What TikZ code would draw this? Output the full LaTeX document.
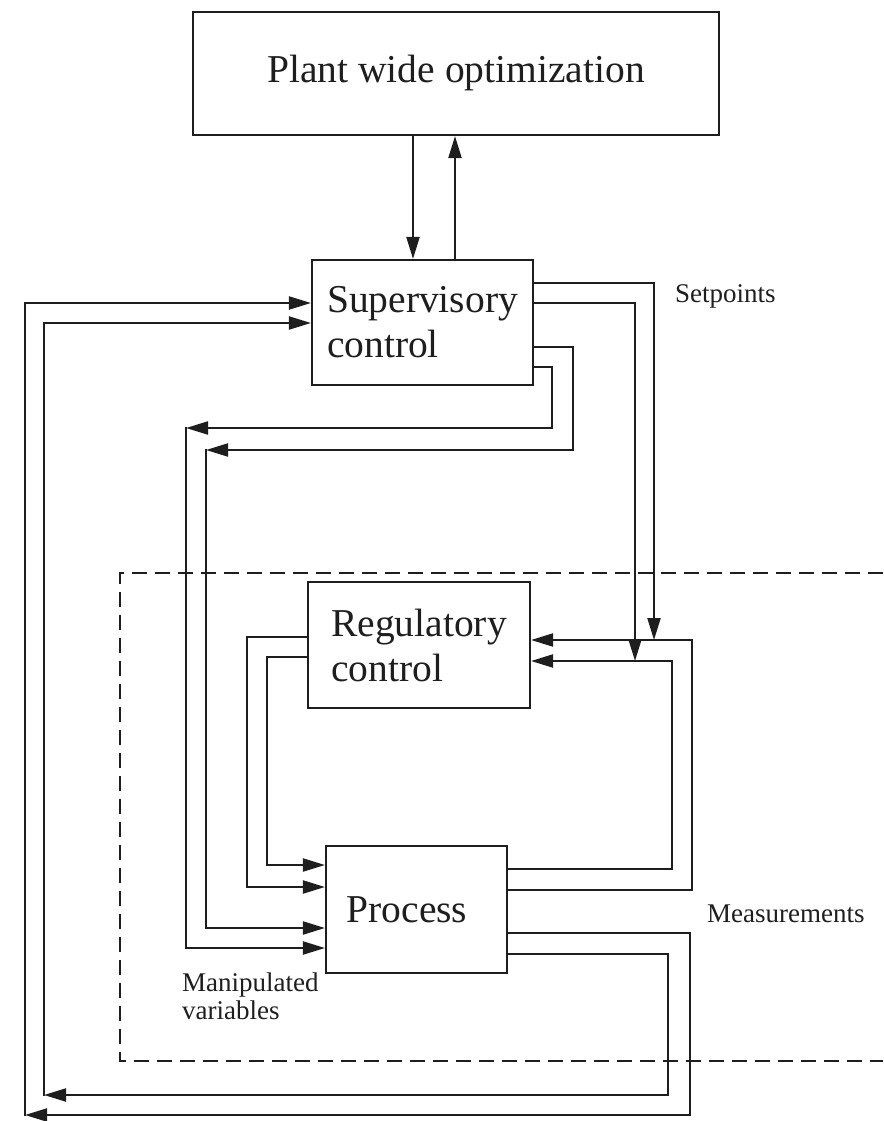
\documentclass[tikz,border=0pt]{standalone}
\usepackage{fontspec}
\setmainfont{Liberation Serif}
\usetikzlibrary{arrows.meta}
\definecolor{ink}{HTML}{1E1E1E}
\begin{document}
\begin{tikzpicture}[x=1pt,y=-1pt,
  block/.style={draw=ink, line width=2.1pt, inner sep=0pt, align=left, text=ink,
    font=\fontsize{39.5}{45}\selectfont},
  flow/.style={draw=ink, line width=2.1pt, -{Triangle[length=22pt,width=13pt]}},
  note/.style={text=ink, inner sep=0pt, align=left, font=\fontsize{27}{28}\selectfont},
  zone/.style={draw=ink, line width=2pt, dash pattern=on 15pt off 8pt}]
\useasboundingbox (0,0) rectangle (883,1121);

% hierarchy of control layers
\node[block, minimum width=526pt, minimum height=123pt] (pwo)  at (456,73.5)    {Plant wide optimization};
\node[block, minimum width=221pt, minimum height=125pt] (sup)  at (422.5,322.5) {Supervisory\\control};
\node[block, minimum width=222pt, minimum height=126pt] (reg)  at (419,645)     {Regulatory\\control};
\node[block, minimum width=181pt, minimum height=127pt] (proc) at (416.5,909.5) {Process\hspace*{19pt}};

% signal labels
\node[note, anchor=west] (sp)   at (675,296) {Setpoints};
\node[note, anchor=west] (meas) at (707,914) {Measurements};
\node[note, anchor=west] (mv)   at (182,996) {Manipulated\\variables};

% boundary of the regulatory layer
\draw[zone] (883,573) -- (120,573) -- (120,1061) -- (883,1061);

% optimization <-> supervisory
\draw[flow] (pwo.south -| 413,0) -- (sup.north -| 413,0);
\draw[flow] (sup.north -| 455,0) -- (pwo.south -| 455,0);

% setpoints from supervisory down to the regulatory feedback lines
\coordinate (sp1) at (654,640);
\coordinate (sp2) at (635,661);
\draw[flow] (sup.east |- 0,283) -| (sp1);
\draw[flow] (sup.east |- 0,303) -| (sp2);

% measurements back to regulatory control
\draw[flow] (proc.east |- 0,890) -| (692,640) -- (reg.east |- 0,640);
\draw[flow] (proc.east |- 0,869) -| (672,661) -- (reg.east |- 0,661);

% regulatory control -> process
\draw[flow] (reg.west |- 0,637) -| (247,887) -- (proc.west |- 0,887);
\draw[flow] (reg.west |- 0,657) -| (267,865) -- (proc.west |- 0,865);

% supervisory control -> process (manipulated variables)
\coordinate (mvA) at (186,428);
\coordinate (mvB) at (206,450);
\draw[flow] (sup.east |- 0,367) -| (552,428) -- (mvA);
\draw[flow, line cap=rect] (mvA) |- (proc.west |- 0,948);
\draw[flow] (sup.east |- 0,347) -| (573,450) -- (mvB);
\draw[flow, line cap=rect] (mvB) |- (proc.west |- 0,928);

% process measurements -> supervisory control
\coordinate (fbA) at (25,1115);
\coordinate (fbB) at (44,1095);
\draw[flow] (proc.east |- 0,933) -| (690,1115) -- (fbA);
\draw[flow, line cap=rect] (fbA) |- (sup.west |- 0,303);
\draw[flow] (proc.east |- 0,954) -| (668,1095) -- (fbB);
\draw[flow, line cap=rect] (fbB) |- (sup.west |- 0,323);
\end{tikzpicture}
\end{document}
